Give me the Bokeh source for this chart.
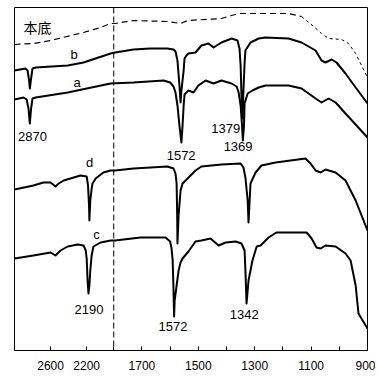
import numpy as np
from bokeh.plotting import figure
from bokeh.models import Range1d, FixedTicker, Span, Label
from bokeh.embed import file_html
from bokeh.resources import INLINE

# Broken wavenumber axis: left part (3000-1900) compressed, right part (1800-900)
BREAK_LEFT = 1900
BREAK_RIGHT = 1800
LEFT_SCALE = 0.32


def xpos(w):
    w = np.asarray(w, dtype=float)
    return np.where(w <= BREAK_RIGHT, BREAK_RIGHT - w, -(w - BREAK_LEFT) * LEFT_SCALE)


# ---- data (wavenumber cm-1, offset transmittance, arbitrary units) ----
base_w = [3000, 2790, 2600, 2235, 2045, 1935, 1795, 1730, 1610, 1563, 1538, 1418, 1382, 1357, 1297, 1180, 1134]
base_v = [306, 307, 310, 318, 323, 327, 327, 330, 329, 327, 330, 332, 335, 337, 337, 337, 334]
base2_w = [1134, 1091, 1063, 1038, 992, 967, 942, 921, 900]
base2_v = [334, 324, 317, 312, 311, 307, 297, 285, 273]

b_w = [3000, 2880, 2855, 2838, 2830, 2816, 2800, 2765, 2410, 2235, 1935, 1795, 1730, 1670, 1610, 1588, 1581,
       1574, 1567, 1563, 1560, 1552, 1549, 1542, 1535, 1510, 1489, 1464, 1446, 1418, 1382, 1361, 1354, 1350,
       1347, 1343, 1340, 1336, 1333, 1315, 1286, 1262, 1180, 1134, 1084, 1063, 1049, 1027, 1010, 978, 942, 900]
b_v = [280, 282, 280, 270, 262, 272, 282, 283, 285, 288, 297, 298, 301, 302, 302, 301, 299,
       290, 265, 248, 260, 280, 292, 295, 297, 298, 305, 307, 303, 308, 312, 310, 302, 285,
       255, 232, 260, 287, 300, 308, 312, 313, 312, 308, 300, 290, 288, 291, 288, 277, 263, 247]

a_w = [3000, 2900, 2865, 2845, 2830, 2816, 2800, 2765, 2410, 1935, 1730, 1623, 1600, 1588, 1581, 1574, 1567,
       1560, 1556, 1552, 1549, 1535, 1517, 1500, 1474, 1446, 1418, 1382, 1364, 1357, 1350, 1345, 1342, 1338,
       1336, 1325, 1308, 1286, 1262, 1180, 1134, 1084, 1063, 1038, 1013, 978, 900]
a_v = [251, 253, 251, 242, 227, 242, 252, 253, 258, 267, 268, 270, 268, 264, 258, 245, 225,
       208, 225, 245, 256, 260, 258, 265, 270, 267, 270, 267, 264, 258, 245, 225, 210, 225,
       247, 257, 260, 263, 265, 265, 262, 252, 248, 252, 248, 237, 213]

d_w = [3000, 2790, 2680, 2600, 2545, 2510, 2455, 2380, 2270, 2200, 2185, 2174, 2170, 2160, 2145, 2135, 2100,
       2015, 1935, 1795, 1730, 1610, 1588, 1581, 1577, 1575, 1574, 1570, 1563, 1556, 1538, 1510, 1489, 1418,
       1350, 1340, 1333, 1325, 1322, 1318, 1315, 1297, 1276, 1226, 1120, 1102, 1084, 1066, 1049, 1013, 978,
       942, 900]
d_v = [161, 165, 168, 168, 164, 167, 170, 172, 175, 174, 165, 145, 130, 150, 162, 167, 172,
       178, 180, 180, 182, 184, 182, 177, 167, 135, 107, 135, 160, 167, 172, 180, 184, 186,
       187, 183, 173, 150, 128, 150, 167, 178, 185, 188, 192, 187, 180, 178, 181, 178, 170,
       150, 120]

c_w = [3000, 2790, 2600, 2545, 2490, 2410, 2300, 2235, 2210, 2200, 2190, 2180, 2170, 2160, 2145, 2125, 2045,
       1935, 1795, 1705, 1616, 1600, 1595, 1591, 1588, 1586, 1584, 1577, 1570, 1563, 1556, 1535, 1510, 1489,
       1457, 1428, 1403, 1368, 1347, 1336, 1333, 1329, 1325, 1322, 1308, 1293, 1279, 1251, 1223, 1116, 1098,
       1081, 1066, 1049, 1013, 978, 960, 942, 932, 900]
c_v = [92, 95, 98, 95, 100, 104, 106, 105, 100, 92, 70, 57, 65, 80, 95, 104, 108,
       110, 110, 113, 113, 109, 102, 90, 60, 34, 50, 65, 80, 88, 92, 99, 109, 110,
       112, 105, 108, 109, 107, 100, 80, 47, 60, 70, 90, 104, 105, 113, 118, 118, 112,
       103, 102, 105, 104, 97, 90, 65, 37, 22]

tick_w = [2600, 2200, 1800, 1700, 1600, 1500, 1400, 1300, 1200, 1100, 1000, 900]
tick_text = ["2600", "2200", "", "1700", "", "1500", "", "1300", "", "1100", "", "900"]

# annotations: (text, wavenumber, value)
notes = [("本底", 2744, 324), ("b", 2340, 296), ("a", 2307, 268), ("2870", 2800, 214),
         ("1572", 1561, 195), ("1379", 1403, 222), ("1369", 1359, 204), ("d", 2168, 188),
         ("c", 2091, 116), ("2190", 2174, 41), ("1572", 1590, 24), ("1342", 1337, 36)]

p = figure(frame_width=353, frame_height=343, output_backend="svg", toolbar_location=None,
           x_range=Range1d(float(xpos(3000)), float(xpos(900))), y_range=Range1d(0, 343),
           y_axis_location=None, min_border_left=14, min_border_right=8,
           min_border_top=7, min_border_bottom=0)
p.grid.visible = False
p.outline_line_color = "black"
p.outline_line_width = 1
p.background_fill_color = "white"
p.border_fill_color = "white"

p.line(xpos(base_w), base_v, line_color="black", line_width=1.2, line_dash="6 4")
p.line(xpos(base2_w), base2_v, line_color="black", line_width=1, line_dash="3 3")
for ws, vs in [(b_w, b_v), (a_w, a_v), (d_w, d_v), (c_w, c_v)]:
    p.line(xpos(ws), vs, line_color="black", line_width=2, line_join="round")

p.add_layout(Span(location=float(xpos(BREAK_RIGHT)), dimension="height",
                  line_color="black", line_width=1, line_dash="6 3"))

ax = p.xaxis[0]
ticks = [float(t) for t in xpos(tick_w)]
ax.ticker = FixedTicker(ticks=ticks)
ax.major_label_overrides = {t: s for t, s in zip(ticks, tick_text)}
ax.major_tick_in = 4
ax.major_tick_out = 0
ax.minor_tick_in = 0
ax.minor_tick_out = 0
ax.axis_line_color = "black"
ax.major_tick_line_color = "black"
ax.major_label_text_font = "Liberation Sans"
ax.major_label_text_font_size = "12px"
ax.major_label_text_color = "black"
ax.major_label_standoff = 10

for txt, w, v in notes:
    font = "Noto Sans CJK SC" if txt == "本底" else "Liberation Sans"
    size = "14px" if txt == "本底" else "13px"
    p.add_layout(Label(x=float(xpos(w)), y=v, text=txt, text_align="center",
                       text_baseline="middle", text_font=font, text_font_size=size,
                       text_color="black"))

open("out.html", "w").write(file_html(p, INLINE))
